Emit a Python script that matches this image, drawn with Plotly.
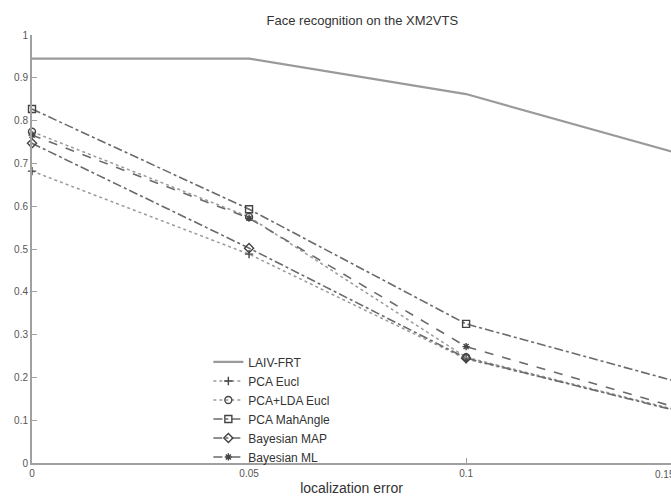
import plotly.graph_objects as go

x_vals = [0, 0.05, 0.1, 0.15]
x_ticks = [0, 0.05, 0.1]
x_tick_text = ["0", "0.05", "0.1"]
y_ticks = [0, 0.1, 0.2, 0.3, 0.4, 0.5, 0.6, 0.7, 0.8, 0.9, 1]
y_tick_text = ["0", "0.1", "0.2", "0.3", "0.4", "0.5", "0.6", "0.7", "0.8", "0.9", "1"]

laiv_frt = [0.945, 0.945, 0.862, 0.72]
pca_eucl = [0.682, 0.488, 0.243, 0.12]
pca_lda_eucl = [0.774, 0.575, 0.247, 0.12]
pca_mahangle = [0.827, 0.593, 0.325, 0.186]
bayesian_map = [0.747, 0.502, 0.245, 0.118]
bayesian_ml = [0.766, 0.572, 0.272, 0.125]

series = [
    ("LAIV-FRT", laiv_frt, "solid", "#9a9a9a", 2.2, None, 0),
    ("PCA Eucl", pca_eucl, "dot", "#9a9a9a", 1.5, "cross-thin-open", 6),
    ("PCA+LDA Eucl", pca_lda_eucl, "dot", "#9a9a9a", 1.5, "circle-open", 7),
    ("PCA MahAngle", pca_mahangle, "dashdot", "#6a6a6a", 1.6, "square-open", 7),
    ("Bayesian MAP", bayesian_map, "dashdot", "#6a6a6a", 1.6, "diamond-open", 7),
    ("Bayesian ML", bayesian_ml, "dash", "#6a6a6a", 1.6, "asterisk-open", 6),
]

fig = go.Figure()
for name, ys, dash, color, width, sym, msize in series:
    if sym is None:
        fig.add_trace(go.Scatter(x=x_vals, y=ys, name=name, mode="lines",
                                 line=dict(color=color, width=width, dash=dash)))
    else:
        fig.add_trace(go.Scatter(
            x=x_vals, y=ys, name=name, mode="lines+markers",
            line=dict(color=color, width=width, dash=dash),
            marker=dict(symbol=sym, size=msize, color="#444444",
                        line=dict(color="#444444", width=1.4)),
            cliponaxis=False))

fig.update_layout(
    width=671, height=496,
    margin=dict(l=32, r=0, t=35, b=33, autoexpand=False),
    paper_bgcolor="white", plot_bgcolor="white",
    font=dict(family="Liberation Sans, Arial, sans-serif", color="#333333"),
    title=dict(text="Face recognition on the XM2VTS", x=0.54, xref="container",
               xanchor="center", y=0.958, yanchor="middle",
               font=dict(size=13, color="#333333")),
    showlegend=True,
    legend=dict(x=0.276, xanchor="left", y=0.27, yanchor="top",
                bgcolor="rgba(0,0,0,0)", borderwidth=0,
                font=dict(size=12, color="#333333"), tracegroupgap=0),
    xaxis=dict(range=[0, 0.1472], tickvals=x_ticks, ticktext=x_tick_text,
               showgrid=False, zeroline=False, showline=True, linecolor="#a0a0a0",
               linewidth=2, ticks="inside", ticklen=5, tickcolor="#a0a0a0",
               tickfont=dict(size=10, color="#555555"), automargin=False,
               title=dict(text="localization error", font=dict(size=14, color="#333333"),
                          standoff=5)),
    yaxis=dict(range=[0, 1], tickvals=y_ticks, ticktext=y_tick_text,
               showgrid=False, zeroline=False, showline=True, linecolor="#a0a0a0",
               linewidth=2, ticks="inside", ticklen=5, tickcolor="#a0a0a0",
               tickfont=dict(size=10, color="#555555"), automargin=False),
    annotations=[dict(text="0.15", xref="paper", yref="paper", x=0.972, y=0,
                      xanchor="left", yanchor="top", yshift=-4, showarrow=False,
                      font=dict(size=10, color="#555555"))],
)

fig.write_html("out.html", config={"displayModeBar": False},
               post_script="document.body.style.margin='0';document.body.style.overflow='hidden';")
